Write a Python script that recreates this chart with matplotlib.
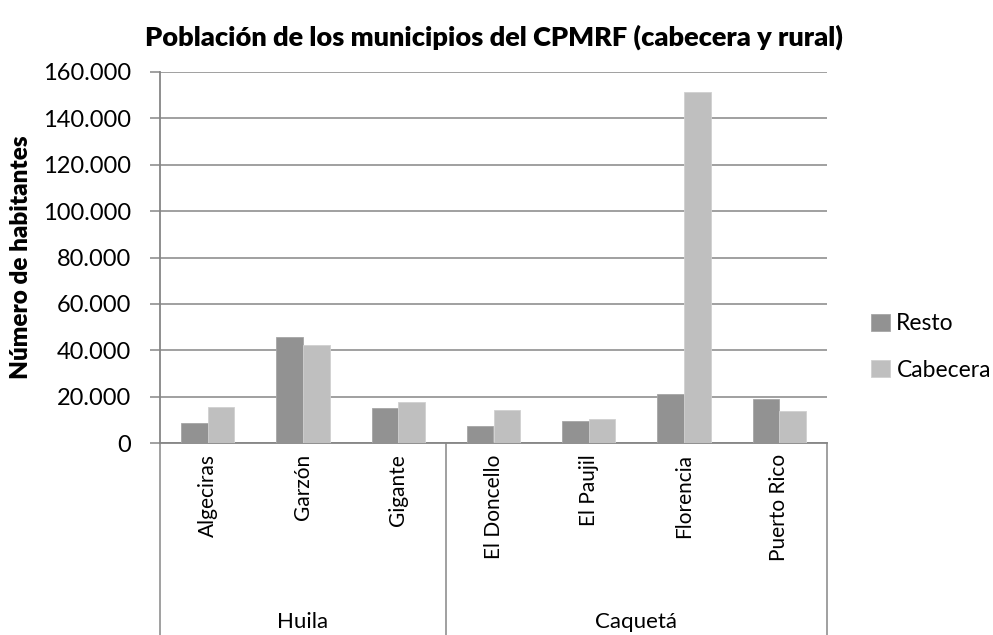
import numpy as np
import matplotlib
matplotlib.use("Agg")
import matplotlib.pyplot as plt
import matplotlib.transforms as mtransforms
from matplotlib.ticker import FuncFormatter, MultipleLocator

plt.rcParams['font.family'] = ['Lato', 'DejaVu Sans']

municipios = ["Algeciras", "Garzón", "Gigante", "El Doncello", "El Paujil", "Florencia", "Puerto Rico"]
departamentos = ["Huila", "Caquetá"]
grupos = [3, 4]  # municipios por departamento
resto = [8750, 45700, 15200, 7450, 9300, 21250, 18950]
cabecera = [15500, 42400, 17800, 14200, 10350, 151300, 13900]
series = ["Resto", "Cabecera"]
colores = ["#929292", "#bfbfbf"]

W, H = 993, 635
fig = plt.figure(figsize=(W / 100, H / 100), dpi=100)
# plot area in pixels: x 160..827, y 72..443
ax = fig.add_axes([160 / W, 1 - 443 / H, (827 - 160) / W, (443 - 72) / H])

x = np.arange(len(municipios))
bw = 0.28
ax.bar(x - bw / 2, resto, bw, color=colores[0], label=series[0], zorder=3,
       edgecolor="#a6a6a6", linewidth=0.6)
ax.bar(x + bw / 2, cabecera, bw, color=colores[1], label=series[1], zorder=3,
       edgecolor="#d0d0d0", linewidth=0.6)

ax.set_xlim(-0.5, len(municipios) - 0.5)
ax.set_ylim(0, 160000)
ax.yaxis.set_major_locator(MultipleLocator(20000))
ax.yaxis.set_major_formatter(FuncFormatter(lambda v, p: f"{int(v):,}".replace(",", ".")))
ax.grid(axis="y", color="#868686", linewidth=1.1, zorder=0)

for s in ["top", "right"]:
    ax.spines[s].set_visible(False)
for s in ["left", "bottom"]:
    ax.spines[s].set_color("#868686")
    ax.spines[s].set_linewidth(1.3)

ax.tick_params(axis="y", length=7, width=1.1, color="#868686", labelsize=17, pad=14)
ax.tick_params(axis="x", length=0, labelsize=0)
ax.set_xticks([])

ax.set_ylabel("Número de habitantes", fontsize=17.5, fontweight="heavy", labelpad=8)

# multi-level category axis
tr = mtransforms.blended_transform_factory(ax.transData, ax.transAxes)
fondo = -(H - 443) / (443 - 72)
for xi, nombre in zip(x, municipios):
    ax.text(xi, -0.03, nombre, transform=tr, rotation=90, ha="center", va="top",
            fontsize=15)
bordes = np.concatenate([[0], np.cumsum(grupos)]) - 0.5
for b in bordes:
    ax.plot([b, b], [0, fondo], transform=tr, color="#868686", linewidth=1.1,
            clip_on=False)
for i, dep in enumerate(departamentos):
    centro = (bordes[i] + bordes[i + 1]) / 2
    ax.text(centro, -(622 - 443) / (443 - 72), dep, transform=tr, ha="center",
            va="center", fontsize=16)

fig.text(494 / W, 1 - 37 / H, "Población de los municipios del CPMRF (cabecera y rural)",
         ha="center", va="center", fontsize=19.5, fontweight="heavy")

fig.legend(loc="center left", bbox_to_anchor=(862 / W, 1 - 347 / H), frameon=False,
           fontsize=16.5, handlelength=0.8, handleheight=0.8, handletextpad=0.3,
           labelspacing=1.1, borderaxespad=0)

fig.savefig("out.png", dpi=100)
